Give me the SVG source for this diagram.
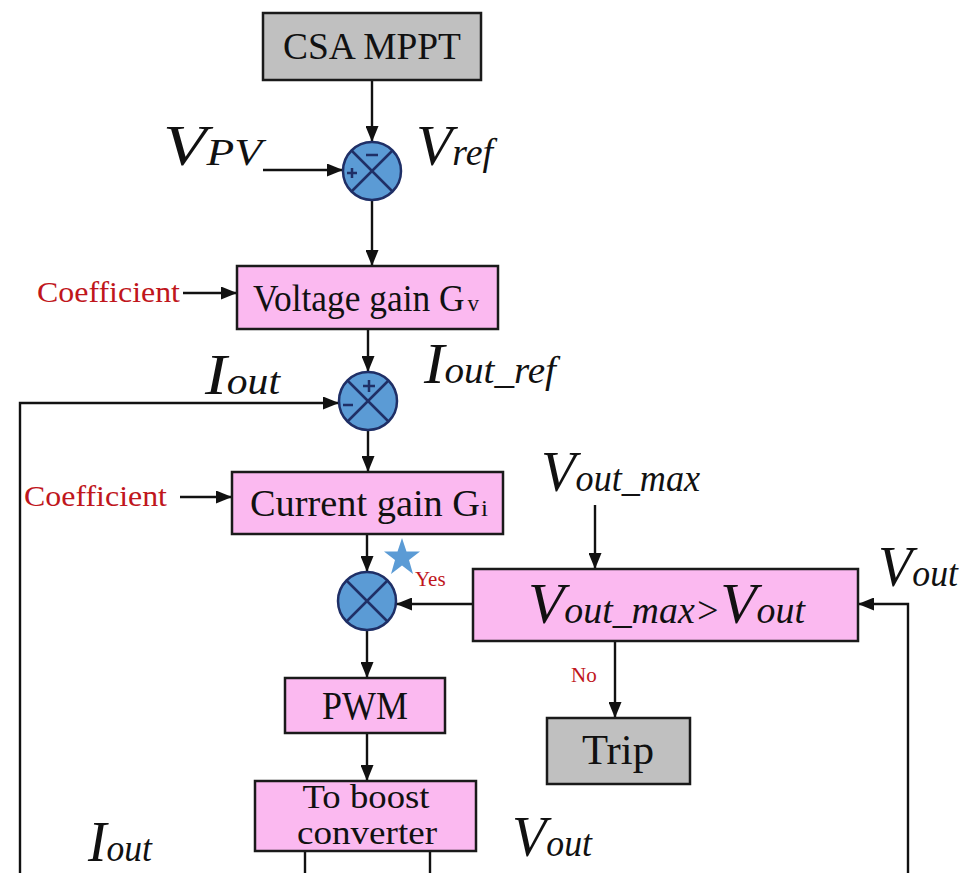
<svg xmlns="http://www.w3.org/2000/svg" width="967" height="873" viewBox="0 0 967 873">
<style>
.box{stroke:#1a1a1a;stroke-width:2.5}
.pink{fill:#fbb9f0}
.gray{fill:#c0c0c0}
.t{font-family:"Liberation Serif","Times New Roman",serif;fill:#111;text-anchor:middle}
.red{font-family:"Liberation Serif","Times New Roman",serif;fill:#c0161c}
.m{font-family:"Liberation Serif","Times New Roman",serif;font-style:italic;fill:#111;font-size:58px}
.s{font-size:37px}
.ln{fill:none;stroke:#111;stroke-width:2.4}
.sum{fill:#5b9bd5;stroke:#1f2f66;stroke-width:2.5}
.x{stroke:#1f2f66;stroke-width:2.5}
.sg{stroke:#1f2f66;stroke-width:2.5;fill:none}
</style>
<defs>
<marker id="ah" viewBox="0 0 16 13" refX="16" refY="6.5" markerWidth="16" markerHeight="13" markerUnits="userSpaceOnUse" orient="auto">
<path d="M0,0 L16,6.5 L0,13 Z" fill="#111"/>
</marker>
</defs>

<g id="connectors">
<line class="ln" x1="372" y1="80" x2="372" y2="142" marker-end="url(#ah)"/>
<line class="ln" x1="263" y1="170" x2="343" y2="170" marker-end="url(#ah)"/>
<line class="ln" x1="372" y1="200" x2="372" y2="266" marker-end="url(#ah)"/>
<line class="ln" x1="183" y1="293" x2="237" y2="293" marker-end="url(#ah)"/>
<line class="ln" x1="368" y1="329" x2="368" y2="372" marker-end="url(#ah)"/>
<polyline class="ln" points="20,873 20,403 339,403" marker-end="url(#ah)"/>
<line class="ln" x1="368" y1="430" x2="368" y2="472" marker-end="url(#ah)"/>
<line class="ln" x1="180" y1="497" x2="232" y2="497" marker-end="url(#ah)"/>
<line class="ln" x1="367" y1="534" x2="367" y2="572" marker-end="url(#ah)"/>
<line class="ln" x1="595" y1="505" x2="595" y2="569" marker-end="url(#ah)"/>
<line class="ln" x1="473" y1="604" x2="396" y2="604" marker-end="url(#ah)"/>
<polyline class="ln" points="908,873 908,604 858,604" marker-end="url(#ah)"/>
<line class="ln" x1="615" y1="641" x2="615" y2="718" marker-end="url(#ah)"/>
<line class="ln" x1="367" y1="630" x2="367" y2="678" marker-end="url(#ah)"/>
<line class="ln" x1="367" y1="733" x2="367" y2="781" marker-end="url(#ah)"/>
<line class="ln" x1="305" y1="851" x2="305" y2="873"/>
<line class="ln" x1="430" y1="851" x2="430" y2="873"/>
</g>

<g id="csa">
<rect class="box gray" x="263" y="13" width="218" height="67"/>
<text class="t" x="372" y="59" font-size="38" textLength="178" lengthAdjust="spacingAndGlyphs">CSA MPPT</text>
</g>

<g id="sum1">
<circle class="sum" cx="372" cy="171" r="29"/>
<line class="x" x1="351.5" y1="150.5" x2="392.5" y2="191.5"/>
<line class="x" x1="392.5" y1="150.5" x2="351.5" y2="191.5"/>
<line class="sg" x1="366" y1="155" x2="378" y2="155"/>
<path class="sg" d="M347,173 h10 M352,168 v10"/>
</g>
<g id="vpv"><text class="m" x="163" y="165" textLength="99" lengthAdjust="spacingAndGlyphs">V<tspan class="s">PV</tspan></text></g>
<g id="vref"><text class="m" x="416" y="165" textLength="77" lengthAdjust="spacingAndGlyphs">V<tspan class="s">ref</tspan></text></g>

<g id="coef1"><text class="red" x="37" y="302" font-size="30" textLength="143" lengthAdjust="spacingAndGlyphs">Coefficient</text></g>
<g id="vgain">
<rect class="box pink" x="237" y="266" width="261" height="63"/>
<text class="t" x="366" y="311" font-size="37" textLength="226" lengthAdjust="spacingAndGlyphs">Voltage gain G<tspan font-size="24" dx="3">v</tspan></text>
</g>

<g id="sum2">
<circle class="sum" cx="368" cy="401" r="29"/>
<line class="x" x1="347.5" y1="380.5" x2="388.5" y2="421.5"/>
<line class="x" x1="388.5" y1="380.5" x2="347.5" y2="421.5"/>
<path class="sg" d="M363,386 h12 M369,380 v12"/>
<line class="sg" x1="343" y1="405" x2="353" y2="405"/>
</g>
<g id="iout1"><text class="m" x="205" y="394" textLength="75" lengthAdjust="spacingAndGlyphs">I<tspan class="s">out</tspan></text></g>
<g id="ioutref"><text class="m" x="424" y="383" textLength="132" lengthAdjust="spacingAndGlyphs">I<tspan class="s">out_ref</tspan></text></g>

<g id="coef2"><text class="red" x="24" y="506" font-size="30" textLength="143" lengthAdjust="spacingAndGlyphs">Coefficient</text></g>
<g id="cgain">
<rect class="box pink" x="232" y="472" width="271" height="62"/>
<text class="t" x="369" y="516" font-size="37" textLength="238" lengthAdjust="spacingAndGlyphs">Current gain G<tspan font-size="24" dx="1">i</tspan></text>
</g>

<g id="sum3">
<circle class="sum" cx="367" cy="601" r="29"/>
<line class="x" x1="346.5" y1="580.5" x2="387.5" y2="621.5"/>
<line class="x" x1="387.5" y1="580.5" x2="346.5" y2="621.5"/>
</g>
<g id="star"><polygon fill="#5b9bd5" points="402,538 406.5,551.5 420,551.5 409,560 413,574 402,565.5 391,574 395,560 384,551.5 397.5,551.5"/></g>
<g id="yes"><text class="red" x="415" y="586" font-size="21">Yes</text></g>

<g id="voutmax"><text class="m" x="541" y="491" textLength="159" lengthAdjust="spacingAndGlyphs">V<tspan class="s">out_max</tspan></text></g>
<g id="comp">
<rect class="box pink" x="473" y="569" width="385" height="72"/>
<text class="m" x="528" y="623" textLength="277" lengthAdjust="spacingAndGlyphs">V<tspan class="s">out_max</tspan><tspan class="s">&gt;</tspan>V<tspan class="s">out</tspan></text>
</g>
<g id="vout1"><text class="m" x="878" y="586" textLength="80" lengthAdjust="spacingAndGlyphs">V<tspan class="s">out</tspan></text></g>
<g id="no"><text class="red" x="571" y="682" font-size="21">No</text></g>

<g id="trip">
<rect class="box gray" x="547" y="718" width="143" height="66"/>
<text class="t" x="618" y="764" font-size="42" textLength="72" lengthAdjust="spacingAndGlyphs">Trip</text>
</g>

<g id="pwm">
<rect class="box pink" x="285" y="678" width="160" height="55"/>
<text class="t" x="365" y="719" font-size="40" textLength="86" lengthAdjust="spacingAndGlyphs">PWM</text>
</g>

<g id="boost">
<rect class="box pink" x="255" y="781" width="221" height="70"/>
<text class="t" x="366" y="808" font-size="34" textLength="127" lengthAdjust="spacingAndGlyphs">To boost</text>
<text class="t" x="367" y="844" font-size="34" textLength="140" lengthAdjust="spacingAndGlyphs">converter</text>
</g>
<g id="iout2"><text class="m" x="88" y="861" textLength="64" lengthAdjust="spacingAndGlyphs">I<tspan class="s">out</tspan></text></g>
<g id="vout2"><text class="m" x="512" y="856" textLength="80" lengthAdjust="spacingAndGlyphs">V<tspan class="s">out</tspan></text></g>
</svg>
